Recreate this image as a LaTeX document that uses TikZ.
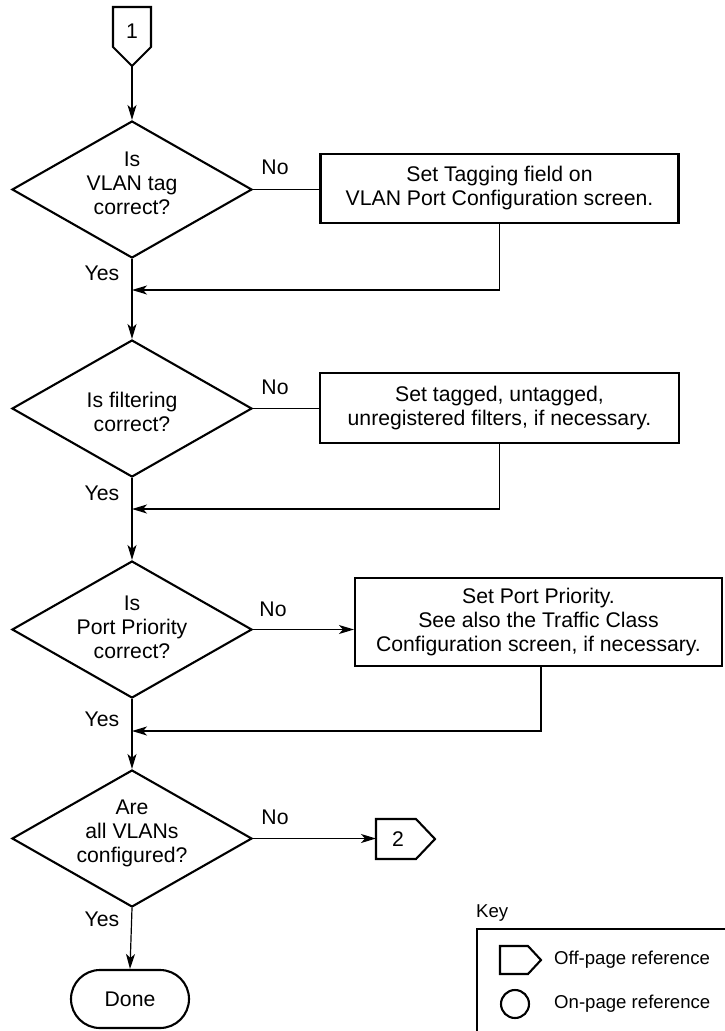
\documentclass[tikz,border=0pt]{standalone}
\usepackage{fontspec}
\setmainfont{Liberation Sans}
\usetikzlibrary{shapes.geometric,arrows.meta}
\begin{document}
\begin{tikzpicture}[x=1pt,y=-1pt,
  every node/.style={font=\fontsize{21.2}{24}\selectfont},
  shapeline/.style={line width=2.1pt, line join=miter},
  conn/.style={line width=1.2pt},
  arr/.style={conn,-{Stealth[length=15pt,width=9pt,inset=4pt]}},
  decision/.style={diamond, shapeline, draw, minimum width=240pt, minimum height=137pt, inner sep=0pt},
  actbox/.style={draw, shapeline, rectangle, inner sep=0pt, align=center},
  txt/.style={align=center, inner sep=0pt},
  keytxt/.style={anchor=west, inner sep=0pt, font=\fontsize{18.6}{22}\selectfont}]
\useasboundingbox (0,0) rectangle (724,1031);

% off-page connector 1
\draw[shapeline] (113,7) -- (151,7) -- (151,47) -- (132,66) -- (113,47) -- cycle;
\node[txt] (c1) at (132,31) {1};
\coordinate (c1tip) at (132,66);

% decisions
\node[decision] (d1) at (132,189.5) {};
\node[txt] (d1t) at (132,183) {Is\\VLAN tag\\correct?};
\node[decision] (d2) at (132,408.5) {};
\node[txt] (d2t) at (132,412) {Is filtering\\correct?};
\node[decision] (d3) at (132,629.5) {};
\node[txt] (d3t) at (132,627) {Is\\Port Priority\\correct?};
\node[decision] (d4) at (132,838.5) {};
\node[txt] (d4t) at (132,833) {Are\\all VLANs\\configured?};

% action boxes
\node[actbox, minimum width=358pt, minimum height=69pt] (b1) at (499.5,188.5) {Set Tagging field on\\VLAN Port Configuration screen.};
\node[actbox, minimum width=359pt, minimum height=70pt] (b2) at (499.5,408) {Set tagged, untagged,\\unregistered filters, if necessary.};
\node[actbox, minimum width=367pt, minimum height=88pt] (b3) at (538.5,622) {Set Port Priority.\\See also the Traffic Class\\Configuration screen, if necessary.};

% off-page connector 2
\draw[shapeline] (376,819) -- (416,819) -- (435,839) -- (416,859) -- (376,859) -- cycle;
\node[txt] (c2) at (398,839) {2};
\coordinate (c2w) at (376,838.5);

% done terminal
\node[draw, shapeline, rounded corners=29pt, minimum width=118pt, minimum height=58pt, inner sep=0pt] (done) at (130,999) {Done};

% merge points
\coordinate (m1) at (132,290);
\coordinate (m2) at (132,509);
\coordinate (m3) at (132,731);

% main flow
\draw[arr] (c1tip) -- (d1.north);
\draw[arr] (d1.south) -- (d2.north);
\draw[arr] (d2.south) -- (d3.north);
\draw[arr] (d3.south) -- (d4.north);
\draw[arr] (d4.south) -- (done.north);

% no branches
\draw[conn] (d1.east) -- (d1.east -| b1.west);
\draw[conn] (d2.east) -- (d2.east -| b2.west);
\draw[arr] (d3.east) -- (d3.east -| b3.west);
\draw[arr] (d4.east) -- (c2w);

% returns
\draw[arr] (b1.south) |- (m1);
\draw[arr] (b2.south) |- (m2);
\draw[arr] ([xshift=2.5pt]b3.south) |- (m3);

% labels
\node[txt] (no1) at (275,167) {No};
\node[txt] (no2) at (275,387) {No};
\node[txt] (no3) at (273,609) {No};
\node[txt] (no4) at (275,817) {No};
\node[txt] (yes1) at (102,273) {Yes};
\node[txt] (yes2) at (102,493) {Yes};
\node[txt] (yes3) at (102,719) {Yes};
\node[txt] (yes4) at (102,919) {Yes};

% key
\node[keytxt] (keyl) at (476,913) {Key};
\draw[conn] (477,1040) -- (477,929) -- (730,929);
\draw[shapeline] (500,946) -- (528,946) -- (541,960) -- (528,974) -- (500,974) -- cycle;
\node[keytxt] (koff) at (554,960) {Off-page reference};
\draw[shapeline] (515,1004) circle (14);
\node[keytxt] (kon) at (554,1004) {On-page reference};
\end{tikzpicture}
\end{document}
